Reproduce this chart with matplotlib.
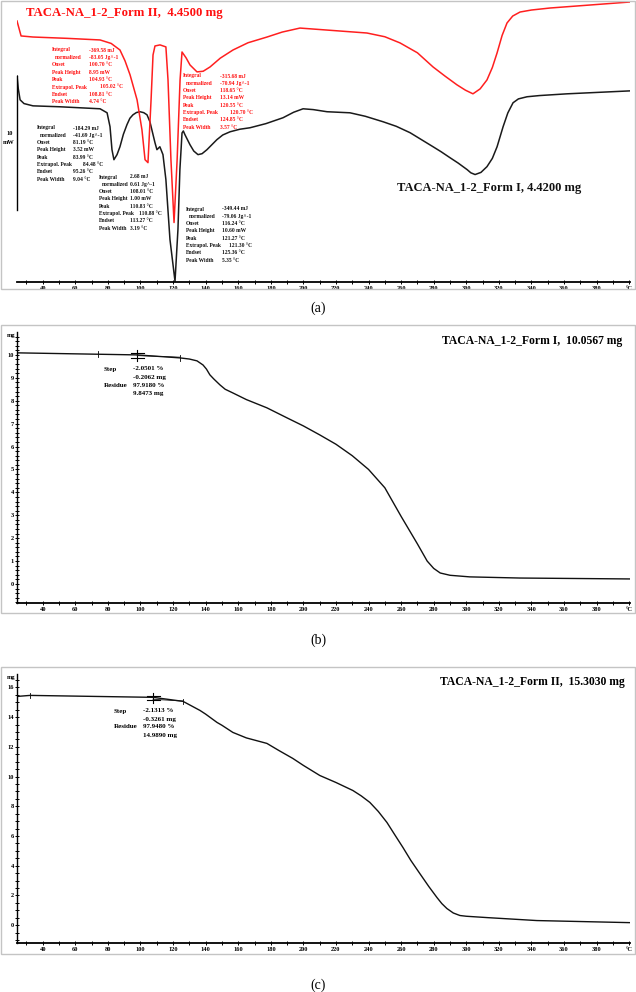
import matplotlib
matplotlib.use("Agg")
import matplotlib.pyplot as plt
from matplotlib.patches import Rectangle

plt.rcParams['font.family'] = ['Liberation Serif', 'DejaVu Serif']

W, H = 636, 992

# (a) DSC, heat flow in mW (arbitrary offset), temperature in °C
dsc1_T = [24.2, 25.0, 26.1, 28.5, 34.0, 50.6, 75.2, 79.5, 81.3, 82.5, 83.7, 85.6, 87.4, 89.5,
          91.7, 93.5, 95.4, 97.5, 99.7, 102.0, 104.0, 105.8, 108.9, 110.1, 111.9, 113.8, 115.6,
          118.1, 121.2, 123.0, 124.2, 125.5, 126.3, 127.3, 130.4, 132.7, 135.3, 137.8, 140.8,
          146.9, 150.5, 155.0, 161.0, 167.2, 177.0, 187.5, 194.0, 199.8, 206.0, 214.5, 228.6,
          238.0, 248.9, 257.0, 265.5, 279.6, 284.5, 290.0, 295.0, 300.5, 302.8, 305.4, 309.0,
          312.7, 316.0, 318.9, 322.6, 325.5, 328.7, 332.0, 337.3, 345.0, 361.9, 400.5]
dsc1_mW = [15.37, 14.40, 13.58, 13.30, 13.13, 13.06, 12.91, 12.61, 11.57, 9.85, 9.10, 9.48, 10.07,
           11.00, 11.72, 12.20, 12.46, 12.63, 12.69, 12.62, 12.46, 11.94, 10.37, 9.85, 10.07,
           9.48, 7.61, 3.13, 0.0, 3.88, 8.36, 11.10, 11.25, 10.97, 10.22, 9.75, 9.48, 9.55, 9.85,
           10.60, 10.95, 11.19, 11.38, 11.49, 11.80, 12.24, 12.65, 12.91, 12.85, 12.69, 12.61,
           12.35, 11.94, 11.60, 11.12, 10.07, 9.70, 9.25, 8.85, 8.36, 8.12, 7.99, 8.15,
           8.58, 9.20, 10.07, 11.57, 12.60, 13.36, 13.65, 13.81, 13.90, 14.03, 14.25]

dsc2_T = [24.2, 26.7, 34.0, 55.0, 75.2, 82.0, 87.4, 90.5, 93.6, 97.9, 100.9, 102.8, 104.6, 106.5,
          107.7, 108.9, 112.0, 115.6, 116.9, 118.7, 120.6, 122.5, 124.3, 125.5, 128.0, 130.4,
          134.7, 138.5, 142.7, 149.0, 156.8, 166.0, 177.7, 187.0, 197.9, 239.0, 250.0, 259.3,
          270.0, 279.6, 287.0, 294.3, 299.5, 304.1, 308.5, 312.7, 316.0, 318.9, 322.0, 325.0,
          328.5, 333.0, 340.0, 351.4, 400.5]
dsc2_mW = [19.48, 18.36, 18.28, 18.18, 18.06, 17.80, 17.31, 16.50, 15.45, 13.58, 11.34, 9.10, 8.88,
           13.58, 16.94, 17.61, 17.69, 17.54, 15.07, 9.10, 4.40, 9.10, 15.07, 17.16, 16.72, 16.19,
           15.67, 15.72, 16.04, 16.70, 17.31, 17.85, 18.28, 18.65, 18.95, 18.58, 18.30, 17.84,
           17.10, 16.04, 15.35, 14.70, 14.30, 14.03, 14.40, 15.07, 16.00, 17.09, 18.40, 19.33,
           19.85, 20.15, 20.30, 20.45, 20.90]

# (b) TGA Form I, mass in mg
tga1_T = [24.2, 98.0, 124.2, 130.0, 134.7, 138.4, 140.5, 142.6, 145.0, 148.8, 152.0, 156.7,
          165.0, 177.6, 190.0, 200.0, 210.0, 220.0, 230.0, 240.0, 250.0, 260.0, 270.0, 276.0,
          280.0, 284.0, 290.0, 302.2, 332.8, 400.3]
tga1_mg = [10.09, 10.00, 9.87, 9.82, 9.74, 9.56, 9.38, 9.13, 8.95, 8.69, 8.50, 8.34,
           8.05, 7.69, 7.25, 6.90, 6.51, 6.10, 5.60, 5.00, 4.20, 2.95, 1.75, 1.00,
           0.68, 0.48, 0.38, 0.31, 0.26, 0.22]

# (c) TGA Form II, mass in mg
tga2_T = [24.2, 32.2, 107.7, 126.1, 136.5, 140.0, 147.0, 150.0, 156.7, 165.0, 177.6, 185.0,
          193.5, 200.0, 210.1, 220.0, 230.4, 235.5, 240.8, 246.0, 251.3, 256.0, 261.1, 266.0,
          271.5, 277.0, 282.0, 285.0, 288.1, 292.0, 296.1, 300.0, 312.7, 343.3, 400.3]
tga2_mg = [15.39, 15.46, 15.33, 15.06, 14.45, 14.20, 13.64, 13.45, 12.97, 12.60, 12.23, 11.75,
           11.22, 10.75, 10.07, 9.60, 9.06, 8.70, 8.26, 7.65, 6.91, 6.10, 5.23, 4.35,
           3.47, 2.60, 1.86, 1.45, 1.12, 0.82, 0.65, 0.60, 0.51, 0.31, 0.17]

x_major = list(range(40, 400, 20))

labels8 = ["Integral", " normalized", "Onset", "Peak Height", "Peak",
           "Extrapol. Peak", "Endset", "Peak Width"]
red_block1 = ["-369.58 mJ", "-83.05 Jg^-1", "100.70 °C", "8.95 mW", "104.93 °C",
              "105.02 °C", "108.81 °C", "4.74 °C"]
red_block2 = ["-315.68 mJ", "-70.94 Jg^-1", "118.65 °C", "13.14 mW", "120.55 °C",
              "120.70 °C", "124.85 °C", "3.57 °C"]
blk_block1 = ["-184.29 mJ", "-41.69 Jg^-1", "81.19 °C", "3.52 mW", "83.99 °C",
              "84.48 °C", "95.26 °C", "9.04 °C"]
blk_block2 = ["2.68 mJ", "0.61 Jg^-1", "108.01 °C", "1.00 mW", "110.83 °C",
              "110.88 °C", "113.27 °C", "3.19 °C"]
blk_block3 = ["-349.44 mJ", "-79.06 Jg^-1", "116.24 °C", "10.60 mW", "121.27 °C",
              "121.30 °C", "125.36 °C", "5.35 °C"]

step1 = ["-2.0501 %", "-0.2062 mg", "97.9180 %", "9.8473 mg"]
step2 = ["-2.1313 %", "-0.3261 mg", "97.9480 %", "14.9890 mg"]

fig = plt.figure(figsize=(W / 100, H / 100), dpi=100)


def add_ax(left, top, right, bottom):
    return fig.add_axes([left / W, 1 - bottom / H, (right - left) / W, (bottom - top) / H])


def ftext(x, y, s, **kw):
    kw.setdefault('ha', 'left')
    kw.setdefault('va', 'center')
    fig.text(x / W, 1 - y / H, s, **kw)


def frame(top, bottom):
    fig.patches.append(Rectangle((1 / W, 1 - bottom / H), 634 / W, (bottom - top) / H,
                                 transform=fig.transFigure, fill=False, ec='#c4c4c4', lw=1.0))


def style_x(ax):
    ax.set_xlim(24.2, 400.5)
    ax.set_xticks(x_major + [400])
    ax.set_xticklabels([str(t) for t in x_major] + ['°C'])
    ax.set_xticks(range(30, 400, 10), minor=True)
    ax.tick_params(axis='x', which='both', direction='inout', length=3, width=0.7,
                   pad=1.2, labelsize=4.6)
    for lab in ax.get_xticklabels():
        lab.set_fontweight('bold')
    ax.spines['bottom'].set_linewidth(1.3)
    ax.spines['top'].set_visible(False)
    ax.spines['right'].set_visible(False)
    ax.patch.set_alpha(0)


def block(x, xv, xe, y0, dy, vals, color):
    for i, (lab, val) in enumerate(zip(labels8, vals)):
        y = y0 + i * dy
        lx = x + 3 if lab.startswith(" ") else x
        ftext(lx, y, lab.strip(), fontsize=4.0, fontweight='bold', color=color)
        ftext(xe if i == 5 else xv, y, val, fontsize=4.0, fontweight='bold', color=color)


# ---------- (a) DSC ----------
frame(1, 289)
ax = add_ax(17, 2, 630, 282)
style_x(ax)
ax.set_ylim(-0.05, 20.9)
ax.set_yticks([])
ax.spines['left'].set_bounds(5.37, 15.37)
ax.spines['left'].set_linewidth(1.0)
ax.plot(dsc1_T, dsc1_mW, color='#1a1a1a', lw=1.1, solid_joinstyle='round')
ax.plot(dsc2_T, dsc2_mW, color='#ff1f1f', lw=1.1, solid_joinstyle='round')

ftext(26, 13, "TACA-NA_1-2_Form II,  4.4500 mg", fontsize=9.2, fontweight='bold', color='#ff1010')
ftext(397, 188, "TACA-NA_1-2_Form I, 4.4200 mg", fontsize=9.0, fontweight='bold', color='#111111')
ftext(10, 134, "10", fontsize=4.6, fontweight='bold', ha='center')
ftext(9, 143, "mW", fontsize=4.6, fontweight='bold', ha='center')

block(52, 89, 100, 50, 7.4, red_block1, '#ff1010')
block(183, 220, 230, 76, 7.3, red_block2, '#ff1010')
block(37, 73, 83, 128, 7.3, blk_block1, '#111111')
block(99, 130, 139, 177, 7.3, blk_block2, '#111111')
block(186, 222, 229, 209, 7.3, blk_block3, '#111111')

ftext(318, 308, "(a)", fontsize=10, ha='center')


def style_tga(ax, ylim, major, minor, step_T, step_v, ticks_T):
    style_x(ax)
    ax.set_ylim(*ylim)
    ax.set_yticks(major)
    ax.set_yticks(minor, minor=True)
    ax.tick_params(axis='y', which='both', direction='inout', length=2.5, width=0.7,
                   pad=1.0, labelsize=4.6)
    for lab in ax.get_yticklabels():
        lab.set_fontweight('bold')
    ax.spines['left'].set_linewidth(1.0)
    # step evaluation marks
    ax.plot([step_T, step_T], [step_v[0], step_v[1]], color='k', lw=0.8)
    for v in step_v[2:]:
        ax.plot([step_T - 4, step_T + 4], [v, v], color='k', lw=0.8)
    for t, v, d in ticks_T:
        ax.plot([t, t], [v - d, v + d], color='k', lw=0.6)


# ---------- (b) TGA Form I ----------
frame(325, 613)
axb = add_ax(17, 332, 630, 603)
style_tga(axb, (-0.83, 11.0), list(range(0, 11)),
          [i * 0.2 for i in range(-4, 55)], 98.0,
          [10.22, 9.74, 10.09, 9.87], [(74.0, 10.04, 0.12), (124.2, 9.87, 0.12)])
axb.plot(tga1_T, tga1_mg, color='#111111', lw=1.0)
axb.plot([98.0, 124.2], [9.97, 9.9], color='#111111', lw=0.6)
ftext(11, 336, "mg", fontsize=4.6, fontweight='bold', ha='center')
ftext(622, 341, "TACA-NA_1-2_Form I,  10.0567 mg", fontsize=8.4, fontweight='bold', ha='right')
ftext(104, 369, "Step", fontsize=5, fontweight='bold')
ftext(104, 385, "Residue", fontsize=5, fontweight='bold')
for i, s in enumerate(step1):
    ftext(133, 369 + 8 * i, s, fontsize=5, fontweight='bold')
ftext(318, 640, "(b)", fontsize=10, ha='center')

# ---------- (c) TGA Form II ----------
frame(667, 954)
axc = add_ax(17, 674, 630, 943)
style_tga(axc, (-1.2, 16.9), list(range(0, 17, 2)),
          [i * 0.5 for i in range(-2, 34)], 107.7,
          [15.6, 14.93, 15.4, 15.15], [(32.2, 15.46, 0.18), (126.1, 15.06, 0.18)])
axc.plot(tga2_T, tga2_mg, color='#111111', lw=1.0)
axc.plot([107.7, 126.1], [15.2, 15.08], color='#111111', lw=0.6)
ftext(11, 678, "mg", fontsize=4.6, fontweight='bold', ha='center')
ftext(625, 682, "TACA-NA_1-2_Form II,  15.3030 mg", fontsize=8.4, fontweight='bold', ha='right')
ftext(114, 711, "Step", fontsize=5, fontweight='bold')
ftext(114, 727, "Residue", fontsize=5, fontweight='bold')
for i, s in enumerate(step2):
    ftext(143, 711 + 8 * i, s, fontsize=5, fontweight='bold')
ftext(318, 985, "(c)", fontsize=10, ha='center')

fig.savefig("out.png", dpi=100)
